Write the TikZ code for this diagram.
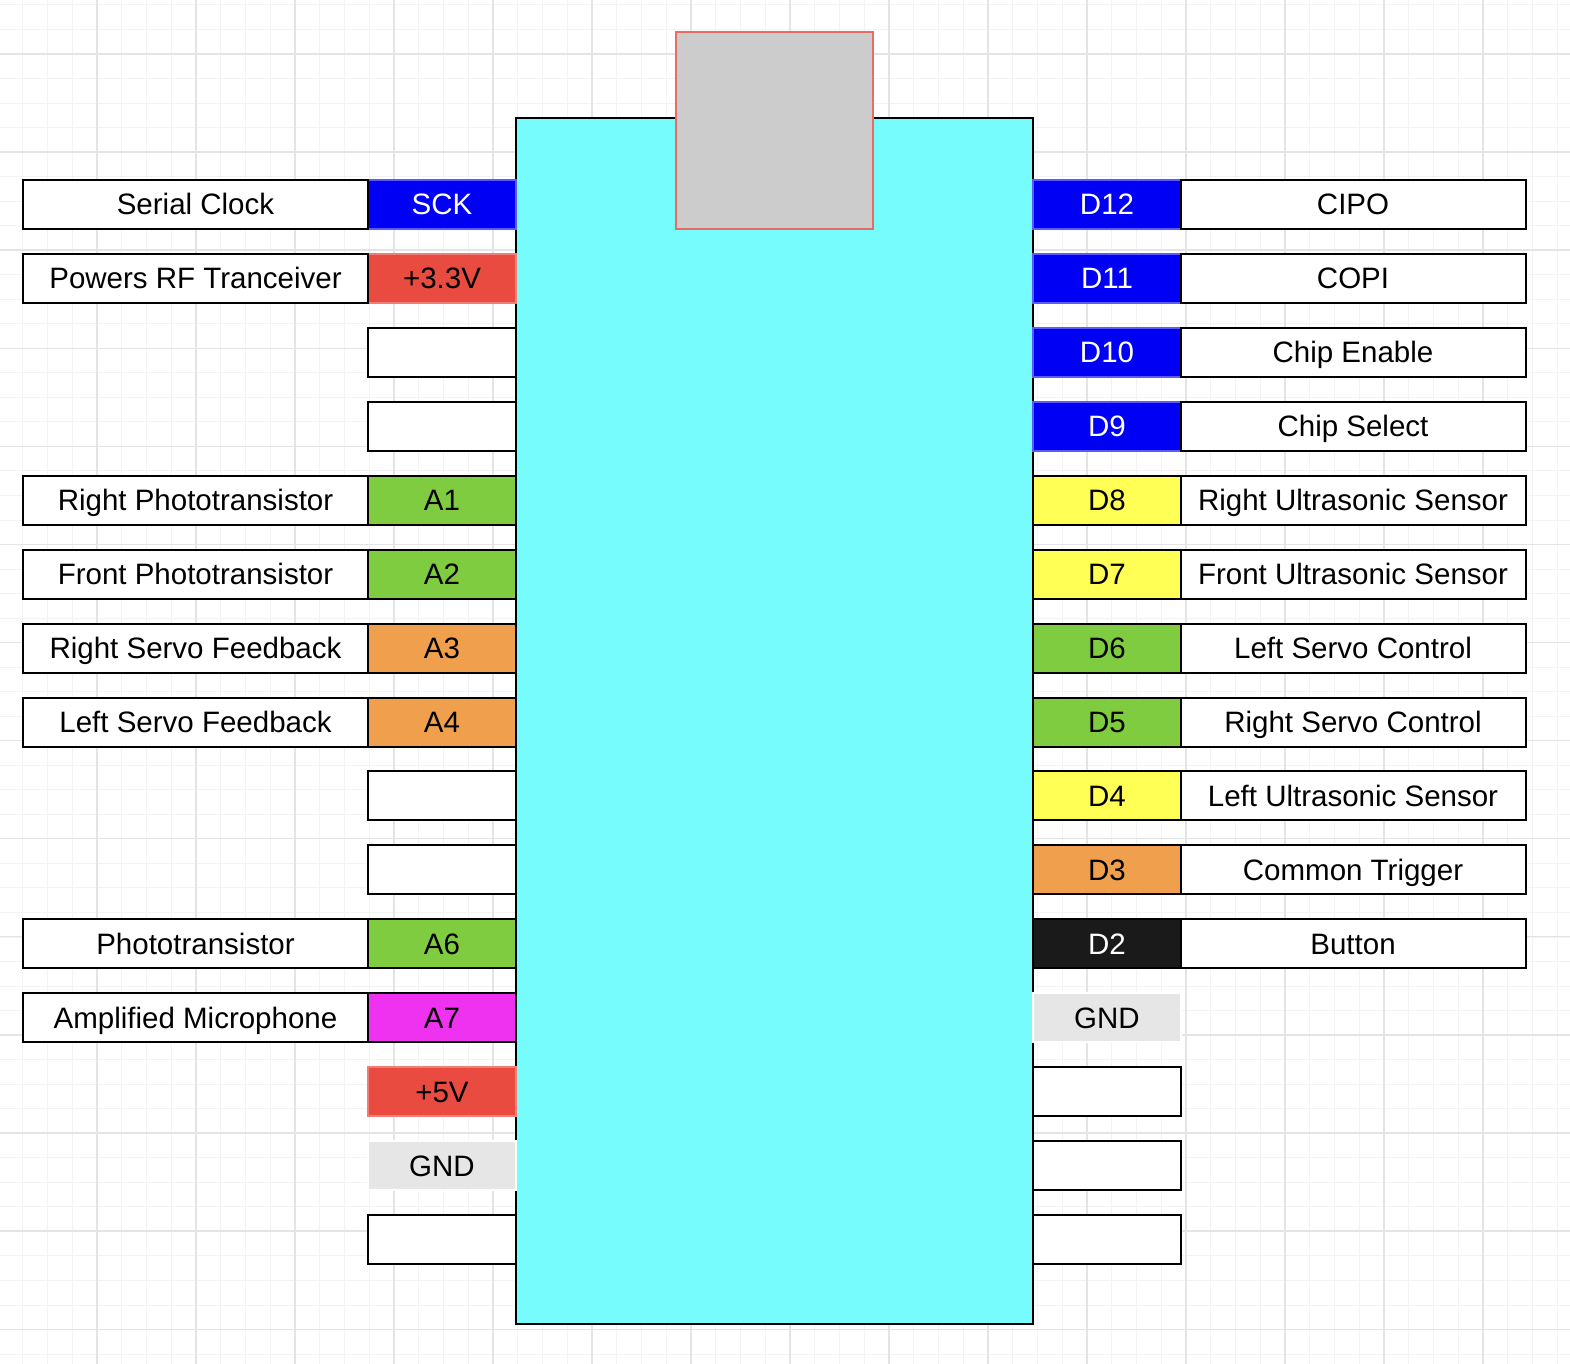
\documentclass[tikz,border=0pt]{standalone}
\usepackage{fontspec}
\setmainfont{Liberation Sans}
\definecolor{boardcyan}{RGB}{119, 252, 253}
\definecolor{usbgray}{RGB}{204, 204, 204}
\definecolor{usbedge}{RGB}{234, 107, 102}
\definecolor{spiblue}{RGB}{0, 0, 245}
\definecolor{spiedge}{RGB}{90, 90, 255}
\definecolor{powerred}{RGB}{234, 75, 64}
\definecolor{poweredge}{RGB}{242, 125, 118}
\definecolor{sensegreen}{RGB}{128, 204, 64}
\definecolor{servoorange}{RGB}{240, 160, 76}
\definecolor{sonicyellow}{RGB}{255, 255, 85}
\definecolor{micmagenta}{RGB}{238, 50, 240}
\definecolor{buttonblack}{RGB}{26, 26, 26}
\definecolor{gndgray}{RGB}{230, 230, 230}
\definecolor{gridminor}{RGB}{243, 243, 243}
\definecolor{gridmajor}{RGB}{228, 228, 228}

\begin{document}
\begin{tikzpicture}[x=1pt, y=-1pt,
	pinbox/.style={rectangle, draw=black, line width=2pt, minimum width=148pt, minimum height=49pt, inner sep=0pt, text height=21pt, text depth=0pt, font=\fontsize{29.5}{34}\selectfont},
	tagbox/.style={pinbox, fill=white, minimum width=345pt},
	bluepin/.style={pinbox, fill=spiblue, draw=spiedge, text=white},
	redpin/.style={pinbox, fill=powerred, draw=poweredge},
	greenpin/.style={pinbox, fill=sensegreen},
	orangepin/.style={pinbox, fill=servoorange},
	yellowpin/.style={pinbox, fill=sonicyellow},
	magentapin/.style={pinbox, fill=micmagenta},
	blackpin/.style={pinbox, fill=buttonblack, text=white},
	gndpin/.style={pinbox, fill=gndgray, draw=white},
	blankpin/.style={pinbox, fill=white},
	board/.style={rectangle, fill=boardcyan, draw=black, line width=2pt, minimum width=517pt, minimum height=1206pt},
	usbport/.style={rectangle, fill=usbgray, draw=usbedge, line width=2pt, minimum width=197pt, minimum height=197pt}]
	% Distribucion de pines de la placa
	\useasboundingbox (0,0) rectangle (1570,1364);
	\fill[white] (0,0) rectangle (1570,1364);
	\foreach \k in {0,...,63} {
		\draw[gridminor, line width=1pt] ({-2+24.75*\k},0) -- ({-2+24.75*\k},1364);
	}
	\foreach \k in {0,...,55} {
		\draw[gridminor, line width=1pt] (0,{4.9+24.53*\k}) -- (1570,{4.9+24.53*\k});
	}
	\foreach \k in {0,...,15} {
		\draw[gridmajor, line width=1.3pt] ({-2+99*\k},0) -- ({-2+99*\k},1364);
	}
	\foreach \k in {0,...,14} {
		\draw[gridmajor, line width=1.3pt] (0,{-44.2+98.1*\k}) -- (1570,{-44.2+98.1*\k});
	}
	\node[board] (board) at (774.5,721) {};
	\foreach \i/\kind/\name in {1/bluepin/SCK, 2/redpin/+3.3V, 3/blankpin/{}, 4/blankpin/{}, 5/greenpin/A1, 6/greenpin/A2, 7/orangepin/A3, 8/orangepin/A4, 9/blankpin/{}, 10/blankpin/{}, 11/greenpin/A6, 12/magentapin/A7, 13/redpin/+5V, 14/gndpin/GND, 15/blankpin/{}} {
		\node[\kind] (lpin\i) at (442,{204.5+73.93*(\i-1)}) {\name};
	}
	\foreach \i/\kind/\name in {1/bluepin/D12, 2/bluepin/D11, 3/bluepin/D10, 4/bluepin/D9, 5/yellowpin/D8, 6/yellowpin/D7, 7/greenpin/D6, 8/greenpin/D5, 9/yellowpin/D4, 10/orangepin/D3, 11/blackpin/D2, 12/gndpin/GND, 13/blankpin/{}, 14/blankpin/{}, 15/blankpin/{}} {
		\node[\kind] (rpin\i) at (1107,{204.5+73.93*(\i-1)}) {\name};
	}
	\foreach \i/\txt in {1/Serial Clock, 2/Powers RF Tranceiver, 5/Right Phototransistor, 6/Front Phototransistor, 7/Right Servo Feedback, 8/Left Servo Feedback, 11/Phototransistor, 12/Amplified Microphone} {
		\node[tagbox] (ltag\i) at (195.5,{204.5+73.93*(\i-1)}) {\txt};
	}
	\foreach \i/\txt in {1/CIPO, 2/COPI, 3/Chip Enable, 4/Chip Select, 5/Right Ultrasonic Sensor, 6/Front Ultrasonic Sensor, 7/Left Servo Control, 8/Right Servo Control, 9/Left Ultrasonic Sensor, 10/Common Trigger, 11/Button} {
		\node[tagbox] (rtag\i) at (1353,{204.5+73.93*(\i-1)}) {\txt};
	}
	\node[usbport] (usb) at (774.5,130.5) {};
\end{tikzpicture}
\end{document}
